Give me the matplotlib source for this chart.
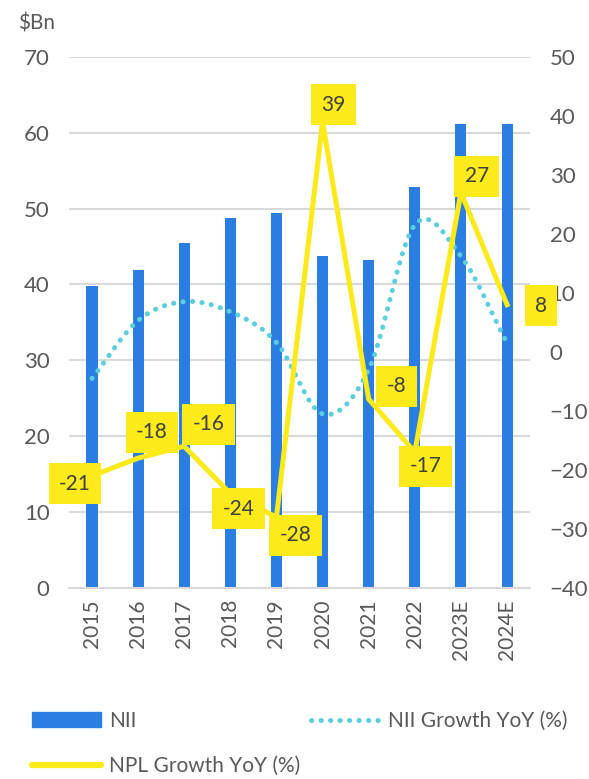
import numpy as np
import matplotlib
matplotlib.use("Agg")
import matplotlib.pyplot as plt
from matplotlib.patches import Patch
from matplotlib.lines import Line2D

years = ["2015", "2016", "2017", "2018", "2019", "2020", "2021", "2022", "2023E", "2024E"]
nii = [39.8, 41.9, 45.5, 48.7, 49.4, 43.7, 43.2, 52.8, 61.2, 61.2]
nii_growth = [-4.5, 5.3, 8.5, 6.8, 1.6, -10.5, -3.0, 21.5, 16.2, 1.5]
npl_growth = [-21, -18, -16, -24, -28, 39, -8, -17, 27, 8]

# label box offsets (pixels) from each NPL point
label_offsets = [(-17, -8), (14, 26), (24, 22), (8, -15), (19, -18),
                 (11, 17), (28, 13), (11, -14), (16, 16), (34, -1)]

BAR = "#2A7DE1"
DOT = "#5BCFDE"
YEL = "#FCEA1B"
GREY = "#595959"
GRID = "#D9D9D9"

plt.rcParams['font.family'] = ['Lato', 'DejaVu Sans']


def catmull_rom(x, y, n=30):
    # smooth rendering through the points (like a smoothed line in excel)
    x = np.asarray(x, float)
    y = np.asarray(y, float)
    px = np.concatenate([[2 * x[0] - x[1]], x, [2 * x[-1] - x[-2]]])
    py = np.concatenate([[2 * y[0] - y[1]], y, [2 * y[-1] - y[-2]]])
    xs, ys = [], []
    for i in range(1, len(px) - 2):
        t = np.linspace(0, 1, n, endpoint=False)
        for arr, out in ((px, xs), (py, ys)):
            p0, p1, p2, p3 = arr[i - 1], arr[i], arr[i + 1], arr[i + 2]
            out.extend(0.5 * ((2 * p1) + (-p0 + p2) * t
                              + (2 * p0 - 5 * p1 + 4 * p2 - p3) * t ** 2
                              + (-p0 + 3 * p1 - 3 * p2 + p3) * t ** 3))
    xs.append(x[-1])
    ys.append(y[-1])
    return np.array(xs), np.array(ys)


fig = plt.figure(figsize=(5.89, 7.79), dpi=100)
ax = fig.add_axes([0.117, 0.2452, 0.783, 0.682])
x = np.arange(len(years))

ax.bar(x, nii, width=0.24, color=BAR, zorder=2)
ax.set_ylim(0, 70)
ax.set_yticks(range(0, 71, 10))
ax.set_xlim(-0.5, len(years) - 0.5)
ax.set_xticks(x)
ax.set_xticklabels(years, rotation=90, fontsize=15, color=GREY)
ax.tick_params(axis='y', labelsize=16, colors=GREY, length=0, pad=14)
ax.tick_params(axis='x', length=0, pad=8)
ax.grid(axis='y', color=GRID, lw=1.5, zorder=0)
for s in ["top", "right", "left"]:
    ax.spines[s].set_visible(False)
ax.spines["bottom"].set_color(GRID)
ax.spines["bottom"].set_linewidth(1.5)

ax2 = ax.twinx()
ax2.set_ylim(-40, 50)
ax2.set_yticks(range(-40, 51, 10))
ax2.tick_params(axis='y', labelsize=16, colors=GREY, length=0, pad=14)
for s in ax2.spines.values():
    s.set_visible(False)

sx, sy = catmull_rom(x, nii_growth)
ax2.plot(sx, sy, color=DOT, lw=3.6, linestyle=(0, (0.05, 1.85)),
         dash_capstyle='round', zorder=3)
ax2.plot(x, npl_growth, color=YEL, lw=3.6, zorder=4, solid_joinstyle='miter')

for xi, v, off in zip(x, npl_growth, label_offsets):
    ax2.annotate(str(v), (xi, v), xytext=off, textcoords='offset pixels',
                 ha='center', va='center', fontsize=15, color="#404040", zorder=5,
                 bbox=dict(boxstyle='square,pad=0.5', fc=YEL, ec='none'))

fig.text(0.031, 0.970, "$Bn", fontsize=15, color=GREY, va='center', ha='left')

handles = [Patch(color=BAR),
           Line2D([], [], color=YEL, lw=4.5, solid_capstyle='round'),
           Line2D([], [], color=DOT, lw=3.6, linestyle=(0, (0.05, 1.85)), dash_capstyle='round')]
labels = ["NII", "NPL Growth YoY (%)", "NII Growth YoY (%)"]
fig.legend(handles, labels, ncol=2, loc='upper left', bbox_to_anchor=(0.04, 0.098),
           frameon=False, fontsize=15, labelcolor=GREY, handlelength=3.3,
           handletextpad=0.4, columnspacing=0.5, labelspacing=1.2, borderaxespad=0)

fig.savefig("out.png", dpi=100)
